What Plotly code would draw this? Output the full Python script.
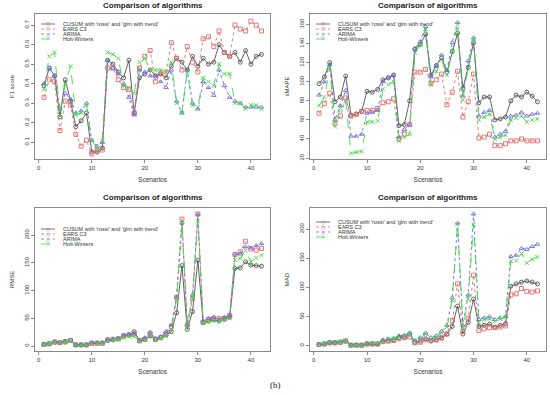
import plotly.graph_objects as go

scenarios = list(range(1, 43))

names = ["CUSUM with 'rossi' and 'glm with trend'", "EARS C3", "ARIMA", "Holt-Winters"]

f1_cusum = [0.39, 0.48, 0.44, 0.23, 0.42, 0.31, 0.18, 0.21, 0.25, 0.05, 0.05, 0.07, 0.52, 0.50, 0.46, 0.43, 0.52, 0.25, 0.43, 0.45, 0.47,
            0.44, 0.45, 0.43, 0.49, 0.53, 0.51, 0.47, 0.54, 0.49, 0.53, 0.50, 0.51, 0.60, 0.56, 0.54, 0.56, 0.51, 0.57, 0.50, 0.54, 0.55]
f1_ears = [0.33, 0.42, 0.41, 0.16, 0.31, 0.29, 0.14, 0.08, 0.11, 0.04, 0.06, 0.06, 0.48, 0.48, 0.42, 0.38, 0.37, 0.25, 0.48, 0.54, 0.57,
           0.41, 0.45, 0.46, 0.61, 0.53, 0.47, 0.59, 0.51, 0.46, 0.63, 0.64, 0.59, 0.67, 0.56, 0.54, 0.70, 0.68, 0.67, 0.72, 0.70, 0.67]
f1_arima = [0.40, 0.48, 0.44, 0.27, 0.35, 0.32, 0.25, 0.26, 0.30, 0.11, 0.08, 0.10, 0.52, 0.48, 0.45, 0.40, 0.33, 0.24, 0.47, 0.46, 0.44,
            0.44, 0.41, 0.38, 0.47, 0.31, 0.25, 0.47, 0.30, 0.27, 0.41, 0.38, 0.34, 0.47, 0.39, 0.33, 0.31, 0.30, 0.28, 0.28, 0.28, 0.28]
f1_hw = [0.37, 0.54, 0.56, 0.24, 0.40, 0.49, 0.24, 0.25, 0.29, 0.11, 0.07, 0.11, 0.56, 0.55, 0.53, 0.39, 0.38, 0.35, 0.51, 0.53, 0.47,
         0.47, 0.47, 0.46, 0.51, 0.30, 0.25, 0.46, 0.29, 0.28, 0.43, 0.41, 0.39, 0.50, 0.45, 0.45, 0.30, 0.30, 0.27, 0.29, 0.29, 0.27]

smape_cusum = [98, 105, 120, 79, 84, 106, 65, 66, 69, 90, 89, 92, 102, 104, 107, 54, 55, 80, 134, 139, 150,
               107, 117, 125, 110, 132, 151, 93, 115, 141, 78, 84, 84, 60, 61, 63, 80, 86, 84, 89, 85, 79]
smape_ears = [67, 77, 88, 56, 64, 83, 64, 66, 69, 70, 70, 72, 78, 79, 82, 40, 45, 55, 110, 110, 113,
              98, 102, 108, 76, 89, 111, 63, 79, 108, 41, 42, 45, 33, 33, 35, 38, 38, 40, 38, 38, 38]
smape_arima = [86, 100, 118, 60, 75, 91, 43, 43, 45, 67, 68, 70, 100, 105, 107, 42, 50, 55, 135, 142, 158,
               105, 116, 128, 112, 141, 162, 85, 122, 146, 64, 68, 70, 42, 45, 48, 64, 65, 68, 64, 66, 67]
smape_hw = [75, 84, 115, 53, 72, 79, 25, 26, 27, 58, 58, 59, 92, 97, 100, 38, 42, 45, 130, 138, 155,
            97, 111, 123, 107, 131, 160, 81, 115, 145, 60, 63, 66, 40, 42, 44, 60, 62, 64, 58, 60, 61]

rmse_cusum = [3, 4, 7, 6, 7, 10, 2, 2, 2, 5, 5, 5, 10, 11, 13, 18, 20, 26, 9, 12, 18,
              12, 15, 20, 26, 60, 145, 30, 62, 155, 42, 45, 47, 45, 48, 52, 140, 141, 152, 146, 145, 144]
rmse_ears = [3, 4, 7, 6, 8, 10, 2, 2, 2, 5, 5, 5, 11, 12, 13, 18, 20, 22, 10, 12, 22,
             12, 15, 22, 35, 88, 229, 38, 85, 238, 43, 48, 50, 50, 50, 55, 165, 170, 189, 175, 173, 176]
rmse_arima = [3, 5, 8, 7, 9, 11, 2, 2, 2, 6, 6, 6, 12, 13, 14, 20, 21, 22, 11, 15, 25,
              14, 17, 26, 38, 88, 222, 38, 92, 238, 45, 50, 52, 48, 52, 55, 166, 166, 179, 177, 181, 185]
rmse_hw = [3, 4, 7, 6, 7, 10, 2, 2, 2, 5, 5, 5, 10, 11, 12, 15, 17, 17, 9, 11, 20,
           11, 14, 18, 30, 85, 222, 35, 86, 225, 42, 44, 46, 45, 48, 50, 155, 158, 172, 152, 159, 164]

mad_cusum = [2, 3, 5, 5, 6, 8, 1, 1, 1, 3, 3, 3, 8, 9, 10, 14, 15, 20, 6, 8, 12,
             8, 10, 13, 20, 33, 68, 20, 40, 80, 33, 35, 37, 32, 35, 38, 102, 106, 109, 111, 109, 106]
mad_ears = [2, 3, 5, 5, 6, 8, 1, 1, 1, 3, 3, 3, 7, 8, 9, 12, 14, 15, 5, 6, 10,
            9, 10, 14, 20, 43, 106, 25, 47, 121, 26, 29, 31, 31, 32, 34, 87, 89, 98, 93, 92, 94]
mad_arima = [3, 4, 6, 6, 7, 9, 1, 1, 1, 4, 4, 4, 10, 12, 13, 17, 18, 22, 9, 14, 22,
             14, 17, 25, 35, 82, 210, 35, 87, 226, 45, 48, 50, 45, 48, 50, 153, 155, 167, 165, 170, 174]
mad_hw = [3, 4, 6, 6, 7, 9, 1, 1, 1, 4, 4, 4, 9, 11, 12, 15, 16, 20, 8, 12, 20,
          12, 15, 22, 32, 78, 208, 30, 80, 208, 40, 45, 46, 42, 46, 49, 145, 146, 158, 142, 148, 152]

x_ticks = [0, 10, 20, 30, 40]
f1_ticks = [0.1, 0.2, 0.3, 0.4, 0.5, 0.6, 0.7]
smape_ticks = [20, 40, 60, 80, 100, 120, 140, 160]
rmse_ticks = [0, 50, 100, 150, 200]
mad_ticks = [0, 50, 100, 150, 200]

colors = ["#505050", "#e36a6a", "#6a6ae0", "#3ddc3d"]
dashes = ["solid", "dot", "dot", "dash"]
symbols = ["circle-open", "square-open", "triangle-up-open", "x-thin-open"]
legend_chars = ["○", "□", "△", "×"]

panels = [
    dict(series=[f1_cusum, f1_ears, f1_arima, f1_hw], ylabel="F1 score", ticks=f1_ticks, yr=[0.014, 0.757]),
    dict(series=[smape_cusum, smape_ears, smape_arima, smape_hw], ylabel="sMAPE", ticks=smape_ticks, yr=[19, 171]),
    dict(series=[rmse_cusum, rmse_ears, rmse_arima, rmse_hw], ylabel="RMSE", ticks=rmse_ticks, yr=[-9, 249]),
    dict(series=[mad_cusum, mad_ears, mad_arima, mad_hw], ylabel="MAD", ticks=mad_ticks, yr=[-9, 236]),
]

W, H = 550, 395


def PX(px):
    return px / W


def PY(py):
    return 1 - py / H


xdoms = [[PX(35), PX(270)], [PX(310), PX(546)]]
ydoms = [[PY(159), PY(14)], [PY(351), PY(208)]]

FONT = "Liberation Sans, Arial, sans-serif"
fig = go.Figure()
layout = dict(
    width=W, height=H, margin=dict(l=0, r=0, t=0, b=0),
    paper_bgcolor="white", plot_bgcolor="white", showlegend=False,
    font=dict(family=FONT, size=6, color="#333"),
)
annotations = []
shapes = []

for i, p in enumerate(panels):
    r, c = divmod(i, 2)
    ax = "" if i == 0 else str(i + 1)
    xa, ya = "x" + ax, "y" + ax
    for k in range(4):
        fig.add_trace(go.Scatter(
            x=scenarios, y=p["series"][k], mode="lines+markers", name=names[k],
            xaxis=xa, yaxis=ya,
            line=dict(color=colors[k], width=0.9, dash=dashes[k]),
            marker=dict(symbol=symbols[k], size=4, color=colors[k], line=dict(color=colors[k], width=0.9)),
        ))
    axis_common = dict(showline=True, linecolor="#888", linewidth=1, mirror=True, ticks="outside",
                       ticklen=3, tickcolor="#888", showgrid=False, zeroline=False,
                       tickfont=dict(size=6, color="#333", family=FONT))
    layout["xaxis" + ax] = dict(axis_common, domain=xdoms[c], range=[-0.7, 43.6], tickvals=x_ticks,
                                anchor=ya, title=dict(text="Scenarios", font=dict(size=6.5, color="#333"), standoff=7))
    layout["yaxis" + ax] = dict(axis_common, domain=ydoms[r], range=p["yr"], tickvals=p["ticks"], tickangle=-90,
                                anchor=xa, title=dict(text=p["ylabel"], font=dict(size=6, color="#333"), standoff=8))
    cx = (xdoms[c][0] + xdoms[c][1]) / 2
    ty = PY(6 if r == 0 else 197)
    annotations.append(dict(text="<b>Comparison of algorithms</b>", x=cx, y=ty, xref="paper", yref="paper",
                            showarrow=False, font=dict(size=8, color="#222", family=FONT),
                            xanchor="center", yanchor="middle"))
    # compact legend (like R's legend())
    lx0 = xdoms[c][0] + 6 / W
    lx1 = lx0 + 14 / W
    ly0 = ydoms[r][1] - (10 if r == 0 else (21 if c == 0 else 14)) / H
    for k in range(4):
        yy = ly0 - k * 5 / H
        shapes.append(dict(type="line", xref="paper", yref="paper", x0=lx0, x1=lx1, y0=yy, y1=yy,
                           line=dict(color=colors[k], width=0.8, dash=dashes[k])))
        annotations.append(dict(text=legend_chars[k], x=(lx0 + lx1) / 2, y=yy, xref="paper", yref="paper",
                                showarrow=False, font=dict(size=4.5, color=colors[k], family="DejaVu Sans"),
                                xanchor="center", yanchor="middle"))
        annotations.append(dict(text=names[k], x=lx1 + 6 / W, y=yy, xref="paper", yref="paper",
                                showarrow=False, font=dict(size=5.5, color="#333", family=FONT),
                                xanchor="left", yanchor="middle"))

annotations.append(dict(text="(b)", x=PX(275), y=PY(385), xref="paper", yref="paper", showarrow=False,
                        font=dict(size=9, color="#222", family="Liberation Serif, serif"),
                        xanchor="center", yanchor="middle"))
layout["annotations"] = annotations
layout["shapes"] = shapes
fig.update_layout(**layout)
fig.write_html("out.html", config={"displayModeBar": False},
               post_script="document.body.style.margin='0px';")
